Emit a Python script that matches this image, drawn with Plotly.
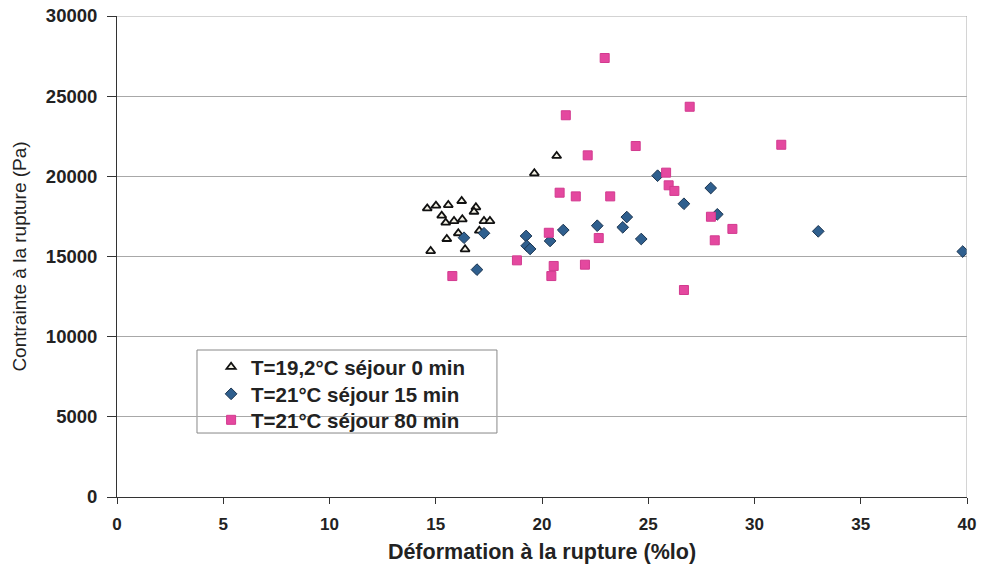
import plotly.graph_objects as go

# Series 1: T=19,2°C séjour 0 min (triangles)
tri_x = [14.60, 15.01, 15.59, 16.22, 16.89, 15.28, 15.47, 15.86, 16.25, 16.80,
         17.27, 17.55, 16.06, 15.52, 17.05, 14.76, 16.38, 19.64, 20.69]
tri_y = [18000, 18170, 18210, 18460, 18070, 17550, 17110, 17210, 17320, 17790,
         17210, 17210, 16450, 16090, 16610, 15340, 15450, 20190, 21270]

# Series 2: T=21°C séjour 15 min (diamonds)
dia_x = [16.33, 17.27, 16.94, 19.25, 19.28, 19.44, 20.38, 21.00, 22.60, 23.80,
         23.99, 24.67, 25.44, 26.68, 27.94, 28.25, 33.00, 39.80]
dia_y = [16170, 16450, 14180, 16280, 15670, 15470, 15970, 16650, 16920, 16820,
         17460, 16090, 20040, 18290, 19270, 17630, 16570, 15310]

# Series 3: T=21°C séjour 80 min (squares)
sq_x = [22.95, 21.12, 26.95, 24.41, 22.15, 25.84, 25.96, 26.23, 20.83, 21.59,
        23.21, 20.32, 22.67, 18.82, 20.55, 22.02, 15.78, 20.44, 26.68, 31.26,
        27.95, 28.96, 28.13]
sq_y = [27380, 23810, 24340, 21890, 21310, 20230, 19440, 19090, 18980, 18750,
        18750, 16480, 16150, 14760, 14410, 14490, 13780, 13780, 12910, 21970,
        17480, 16720, 16010]

names = ["T=19,2°C séjour 0 min", "T=21°C séjour 15 min", "T=21°C séjour 80 min"]

x_ticks = [0, 5, 10, 15, 20, 25, 30, 35, 40]
y_ticks = [0, 5000, 10000, 15000, 20000, 25000, 30000]

fig = go.Figure()
fig.add_trace(go.Scatter(
    x=tri_x, y=tri_y, mode="markers", name="<b>" + names[0] + "</b>", legend="legend",
    marker=dict(symbol="triangle-up", size=8, color="#F4F2E6",
                line=dict(color="#111111", width=1.8))))
fig.add_trace(go.Scatter(
    x=dia_x, y=dia_y, mode="markers", name="<b>" + names[1] + "</b>", legend="legend2",
    marker=dict(symbol="diamond", size=9, color="#2F5F8E",
                line=dict(color="#1C3550", width=1))))
fig.add_trace(go.Scatter(
    x=sq_x, y=sq_y, mode="markers", name="<b>" + names[2] + "</b>", legend="legend3",
    marker=dict(symbol="square", size=9, color="#E4489F",
                line=dict(color="#D23A8F", width=1))))

font_family = "Arial, Liberation Sans, sans-serif"


def legend_at(ypos):
    return dict(x=0.1107, y=ypos, xanchor="left", yanchor="middle",
                bgcolor="rgba(0,0,0,0)", borderwidth=0,
                font=dict(size=20.5, family=font_family, color="#222222"),
                itemwidth=30)


fig.update_layout(
    width=981, height=573,
    margin=dict(l=117, r=14, t=16, b=76),
    paper_bgcolor="white", plot_bgcolor="white",
    font=dict(family=font_family, color="#222222"),
    showlegend=True,
    legend=legend_at(0.2703),
    legend2=legend_at(0.2141),
    legend3=legend_at(0.1601),
    xaxis=dict(range=[0, 40], tickvals=x_ticks, ticktext=[str(v) for v in x_ticks],
               showgrid=False, zeroline=False, showline=True, linecolor="#333333",
               linewidth=1, ticks="outside", ticklen=6, tickcolor="#333333",
               automargin=False, ticklabelstandoff=6, ticklabeloverflow="allow",
               tickfont=dict(size=17, family=font_family, weight="bold", color="#222222"),
               title=dict(text="<b>Déformation à la rupture (%lo)</b>",
                          font=dict(size=21.5, family=font_family, color="#222222"),
                          standoff=10)),
    yaxis=dict(range=[0, 30000], tickvals=y_ticks, ticktext=[str(v) for v in y_ticks],
               showgrid=True, gridcolor="#A8A8A8", gridwidth=1, zeroline=False,
               showline=True, linecolor="#333333", linewidth=1,
               ticks="outside", ticklen=9, tickcolor="#333333",
               automargin=False, ticklabelstandoff=6, ticklabeloverflow="allow",
               tickfont=dict(size=18.5, family=font_family, weight="bold", color="#222222"),
               title=dict(text="Contrainte à la rupture (Pa)",
                          font=dict(size=19, family=font_family, color="#222222"),
                          standoff=14)),
)

# right and top border of the plot frame
fig.add_shape(type="line", xref="x", yref="y", x0=40, x1=40, y0=0, y1=30000,
              line=dict(color="#A8A8A8", width=1))
fig.add_shape(type="line", xref="x", yref="y", x0=0, x1=40, y0=30000, y1=30000,
              line=dict(color="#A8A8A8", width=1))
# legend box
fig.add_shape(type="rect", xref="paper", yref="paper",
              x0=0.0941, x1=0.447, y0=0.133, y1=0.3056,
              line=dict(color="#888888", width=1), fillcolor="white", layer="below")

fig.write_html(
    "out.html",
    config={"displayModeBar": False},
    post_script="document.body.style.margin='0';document.body.style.overflow='hidden';",
)
